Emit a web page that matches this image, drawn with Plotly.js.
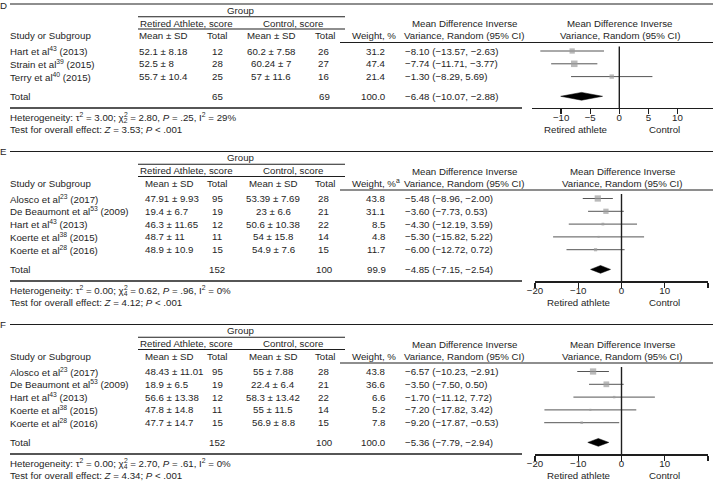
<!DOCTYPE html>
<html><head><meta charset="utf-8">
<script src="https://cdn.plot.ly/plotly-3.0.1.min.js"></script>
<style>html,body{margin:0;padding:0;background:#fff}#chart{width:713px;height:481px}</style>
</head><body><div id="chart"></div>
<script>
// ---------- Panel D ----------
const dStudy = ["Hart et al", "Strain et al", "Terry et al"];
const dRef = [43, 39, 40];
const dYear = [2013, 2015, 2015];
const dRaMean = [52.1, 52.5, 55.7];
const dRaSD = [8.18, 8, 10.4];
const dRaN = [12, 28, 25];
const dCtMean = [60.2, 60.24, 57];
const dCtSD = [7.58, 7, 11.6];
const dCtN = [26, 27, 16];
const dWeight = [31.2, 47.4, 21.4];
const dMD = [-8.10, -7.74, -1.30];
const dLo = [-13.57, -11.71, -8.29];
const dHi = [-2.63, -3.77, 5.69];
const dPooled = [-6.48, -10.07, -2.88];   // MD, low, high
const dTotals = [65, 69, 100.0];          // retired N, control N, weight
const dHet = [3.00, 2.80, 2, ".25", 29];  // tau2, chi2, df, P, I2
const dZ = 3.53;
const dTicks = [-10, -5, 0, 5, 10];

// ---------- Panel E ----------
const eStudy = ["Alosco et al", "De Beaumont et al", "Hart et al", "Koerte et al", "Koerte et al"];
const eRef = [23, 53, 43, 38, 28];
const eYear = [2017, 2009, 2013, 2015, 2016];
const eRaMean = [47.91, 19.4, 46.3, 48.7, 48.9];
const eRaSD = [9.93, 6.7, 11.65, 11, 10.9];
const eRaN = [95, 19, 12, 11, 15];
const eCtMean = [53.39, 23, 50.6, 54, 54.9];
const eCtSD = [7.69, 6.6, 10.38, 15.8, 7.6];
const eCtN = [28, 21, 22, 14, 15];
const eWeight = [43.8, 31.1, 8.5, 4.8, 11.7];
const eMD = [-5.48, -3.60, -4.30, -5.30, -6.00];
const eLo = [-8.96, -7.73, -12.19, -15.82, -12.72];
const eHi = [-2.00, 0.53, 3.59, 5.22, 0.72];
const ePooled = [-4.85, -7.15, -2.54];
const eTotals = [152, 100, 99.9];
const eHet = [0.00, 0.62, 4, ".96", 0];
const eZ = 4.12;
const eTicks = [-20, -10, 0, 10, 20];

// ---------- Panel F ----------
const fStudy = ["Alosco et al", "De Beaumont et al", "Hart et al", "Koerte et al", "Koerte et al"];
const fRef = [23, 53, 43, 38, 28];
const fYear = [2017, 2009, 2013, 2015, 2016];
const fRaMean = [48.43, 18.9, 56.6, 47.8, 47.7];
const fRaSD = [11.01, 6.5, 13.38, 14.8, 14.7];
const fRaN = [95, 19, 12, 11, 15];
const fCtMean = [55, 22.4, 58.3, 55, 56.9];
const fCtSD = [7.88, 6.4, 13.42, 11.5, 8.8];
const fCtN = [28, 21, 22, 14, 15];
const fWeight = [43.8, 36.6, 6.6, 5.2, 7.8];
const fMD = [-6.57, -3.50, -1.70, -7.20, -9.20];
const fLo = [-10.23, -7.50, -11.12, -17.82, -17.87];
const fHi = [-2.91, 0.50, 7.72, 3.42, -0.53];
const fPooled = [-5.36, -7.79, -2.94];
const fTotals = [152, 100, 100.0];
const fHet = [0.00, 2.70, 4, ".61", 0];
const fZ = 4.34;
const fTicks = [-20, -10, 0, 10, 20];

// ---------- rendering ----------
const W = 713, H = 481;
const FONT = "Liberation Sans, Arial, Helvetica, sans-serif";
const FS = 9.7, TXT = "#1e1e1e";
const HIDE = '<span style="color:rgba(0,0,0,0)">';
const ann = [], shapes = [], traces = [], layout = {};

const ctx = document.createElement('canvas').getContext('2d');
function tw(s, size) { ctx.font = size + 'px "Liberation Sans", Arial, sans-serif'; return ctx.measureText(s).width; }

function T(x, y, text, anchor) {
  ann.push({xref: 'paper', yref: 'y', x: x / W, y: y, text: text, showarrow: false,
    xanchor: anchor || 'left', yanchor: 'middle', borderpad: 0, borderwidth: 0,
    font: {family: FONT, size: FS, color: TXT}});
}
function L(x0, x1, y, w) {
  shapes.push({type: 'line', xref: 'paper', yref: 'y', x0: x0 / W, x1: x1 / W, y0: y, y1: y,
    line: {color: TXT, width: w || 1}});
}
const sgn = (v, d) => (v < 0 ? '\u2212' : '') + Math.abs(v).toFixed(d);
const ci = (m, lo, hi) => sgn(m, 2) + ' (' + sgn(lo, 2) + ', ' + sgn(hi, 2) + ')';

const panels = [
  {letter: 'D', top: 4, study: dStudy, ref: dRef, year: dYear, raM: dRaMean, raS: dRaSD, raN: dRaN,
   ctM: dCtMean, ctS: dCtSD, ctN: dCtN, w: dWeight, md: dMD, lo: dLo, hi: dHi, pooled: dPooled,
   totals: dTotals, het: dHet, z: dZ, ticks: dTicks, wSup: '',
   ax: 'x', axKey: 'xaxis', px0: 532, px1: 713, zeroPx: 619.3, ppu: 5.82,
   raMeanX: 139, raMeanAnchor: 'left', raHeadX: 163, ctMeanX: 271, ctHeadX: 270.5, fHeadX: 619.5, lblX: [575, 664.5]},
  {letter: 'E', top: 151.5, study: eStudy, ref: eRef, year: eYear, raM: eRaMean, raS: eRaSD, raN: eRaN,
   ctM: eCtMean, ctS: eCtSD, ctN: eCtN, w: eWeight, md: eMD, lo: eLo, hi: eHi, pooled: ePooled,
   totals: eTotals, het: eHet, z: eZ, ticks: eTicks, wSup: '<sup>a</sup>',
   ax: 'x2', axKey: 'xaxis2', px0: 535, px1: 708, zeroPx: 621.5, ppu: 4.325,
   raMeanX: 145, raMeanAnchor: 'left', raHeadX: 169, ctMeanX: 273, ctHeadX: 273, fHeadX: 622, lblX: [578, 664]},
  {letter: 'F', top: 324.5, study: fStudy, ref: fRef, year: fYear, raM: fRaMean, raS: fRaSD, raN: fRaN,
   ctM: fCtMean, ctS: fCtSD, ctN: fCtN, w: fWeight, md: fMD, lo: fLo, hi: fHi, pooled: fPooled,
   totals: fTotals, het: fHet, z: fZ, ticks: fTicks, wSup: '',
   ax: 'x3', axKey: 'xaxis3', px0: 535, px1: 708, zeroPx: 621.5, ppu: 4.325,
   raMeanX: 145, raMeanAnchor: 'left', raHeadX: 169, ctMeanX: 273, ctHeadX: 272.5, fHeadX: 622, lblX: [578, 664]}
];

panels.forEach(p => {
  const t = p.top;
  const n = p.study.length;
  const rowY = i => t + 47 + i * 12.8;
  const totY = rowY(n - 1) + 19.7;
  const botY = totY + 11.7;
  const hdrLine = t + 38.5;

  // header
  T(0, Math.max(t, 5.5), p.letter, 'left');
  L(10, 713, t, 1.2);
  T(240.7, t + 6, 'Group', 'center');
  L(138, 345, t + 12.7, 1.1);
  T(186.3, t + 19, 'Retired Athlete, score', 'center');
  T(293, t + 19, 'Control, score', 'center');
  L(138, 345, t + 25, 1.1);
  const hy = t + 31.5;
  T(10, hy, 'Study or Subgroup', 'left');
  T(p.raHeadX, hy, 'Mean \u00b1 SD', 'center');
  T(217, hy, 'Total', 'center');
  T(p.ctHeadX, hy, 'Mean \u00b1 SD', 'center');
  T(325, hy, 'Total', 'center');
  T(352, hy, 'Weight, %' + p.wSup, 'left');
  T(464, t + 19.5, 'Mean Difference Inverse', 'center');
  T(464, hy, 'Variance, Random (95% CI)', 'center');
  T(p.fHeadX, t + 19.5, 'Mean Difference Inverse', 'center');
  T(p.fHeadX, hy, 'Variance, Random (95% CI)', 'center');
  L(340, 713, hdrLine, 1.1);

  // rows
  for (let i = 0; i < n; i++) {
    const y = rowY(i);
    T(10, y, p.study[i] + '<sup>' + p.ref[i] + '</sup> (' + p.year[i] + ')', 'left');
    T(p.raMeanX, y, p.raM[i] + ' \u00b1 ' + p.raS[i], p.raMeanAnchor);
    T(217, y, String(p.raN[i]), 'center');
    T(p.ctMeanX, y, p.ctM[i] + ' \u00b1 ' + p.ctS[i], 'center');
    T(323, y, String(p.ctN[i]), 'center');
    T(385, y, p.w[i].toFixed(1), 'right');
    T(405, y, ci(p.md[i], p.lo[i], p.hi[i]), 'left');
  }
  // totals
  T(10, totY, 'Total', 'left');
  T(217, totY, String(p.totals[0]), 'center');
  T(324, totY, String(p.totals[1]), 'center');
  T(386, totY, p.totals[2].toFixed(1), 'right');
  T(405, totY, ci(p.pooled[0], p.pooled[1], p.pooled[2]), 'left');
  L(10, 522, botY, 1.5);

  // footer (chi-square with stacked sub/superscript)
  const h = p.het;
  const hetY = botY + 9.8;
  T(10, hetY, 'Heterogeneity: \u03c4<sup>2</sup> = ' + h[0].toFixed(2) + '; \u03c7<sub>' + h[2] +
    '</sub> = ' + h[1].toFixed(2) + ', <i>P</i> = ' + h[3] + ', I<sup>2</sup> = ' + h[4] + '%', 'left');
  const chiX = 10 + tw('Heterogeneity: \u03c4', FS) + tw('2', FS * 0.7) + tw(' = ' + h[0].toFixed(2) + '; ', FS);
  T(chiX, hetY, HIDE + '\u03c7</span><sup>2</sup><sub>' + HIDE + h[2] + '</span></sub>', 'left');
  T(10, botY + 21.3, 'Test for overall effect: <i>Z</i> = ' + p.z.toFixed(2) + '; <i>P</i> &lt; .001', 'left');
  T(p.lblX[0], botY + 21.3, 'Retired athlete', 'center');
  T(p.lblX[1], botY + 21.3, 'Control', 'center');

  // forest axis
  layout[p.axKey] = {
    domain: [p.px0 / W, p.px1 / W],
    range: [(p.px0 - p.zeroPx) / p.ppu, (p.px1 - p.zeroPx) / p.ppu],
    anchor: 'free', position: 1 - botY / H,
    showline: true, linecolor: TXT, linewidth: 1.4,
    ticks: 'outside', ticklen: 5, tickwidth: 1.2, tickcolor: TXT,
    ticklabelstandoff: -5,
    tickmode: 'array', tickvals: p.ticks,
    tickfont: {family: FONT, size: FS, color: TXT},
    showgrid: false, zeroline: false, fixedrange: true
  };
  // zero line
  shapes.push({type: 'line', xref: p.ax, yref: 'y', x0: 0, x1: 0, y0: hdrLine + 4, y1: botY,
    line: {color: TXT, width: 1.4}});

  // CI lines
  const cx = [], cy = [];
  for (let i = 0; i < n; i++) { cx.push(p.lo[i], p.hi[i], null); cy.push(rowY(i), rowY(i), null); }
  traces.push({type: 'scatter', mode: 'lines', x: cx, y: cy, xaxis: p.ax, yaxis: 'y',
    line: {color: '#555555', width: 1}, hoverinfo: 'skip', showlegend: false});
  // squares
  traces.push({type: 'scatter', mode: 'markers', x: p.md, y: p.study.map((s, i) => rowY(i)),
    xaxis: p.ax, yaxis: 'y', hoverinfo: 'skip', showlegend: false,
    marker: {symbol: 'square', color: '#9c9c9c', size: p.w.map(v => Math.max(1.8, 0.95 * Math.sqrt(v))), line: {width: 0}}});
  // diamond
  const dh = 3.9;
  traces.push({type: 'scatter', mode: 'lines', fill: 'toself', fillcolor: '#000',
    x: [p.pooled[1], p.pooled[0], p.pooled[2], p.pooled[0], p.pooled[1]],
    y: [totY, totY - dh, totY, totY + dh, totY],
    xaxis: p.ax, yaxis: 'y', line: {color: '#000', width: 0.5}, hoverinfo: 'skip', showlegend: false});
});

Object.assign(layout, {
  width: W, height: H, margin: {l: 0, r: 0, t: 0, b: 0, pad: 0},
  paper_bgcolor: '#fff', plot_bgcolor: 'rgba(0,0,0,0)',
  yaxis: {domain: [0, 1], range: [H, 0], visible: false, fixedrange: true},
  annotations: ann, shapes: shapes, showlegend: false,
  font: {family: FONT, size: FS, color: TXT}
});

Plotly.newPlot('chart', traces, layout, {displayModeBar: false, staticPlot: true});
</script>
</body></html>
